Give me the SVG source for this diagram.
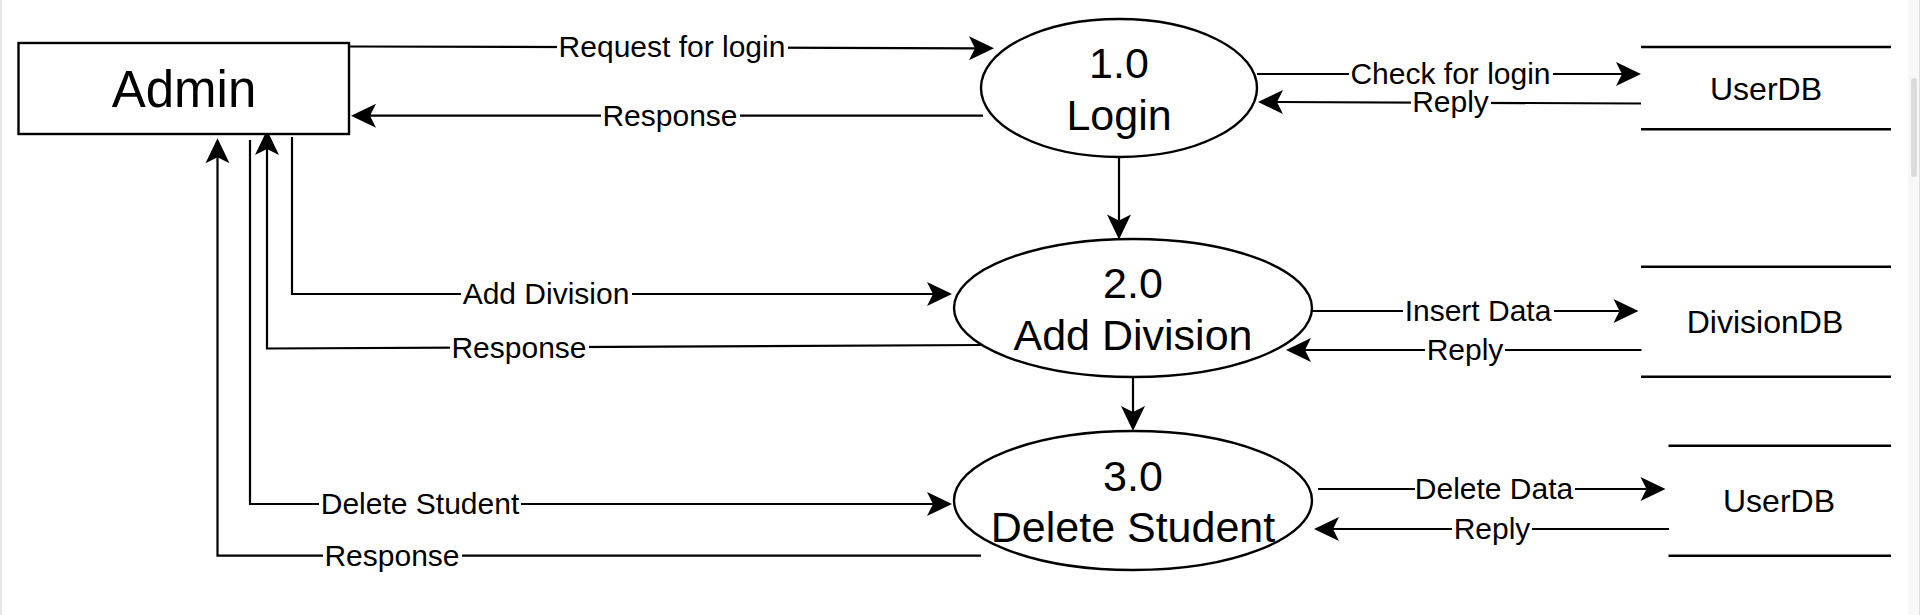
<svg xmlns="http://www.w3.org/2000/svg" width="1920" height="615" viewBox="0 0 1920 615">
  <style>
    text { font-family: "Liberation Sans", Arial, sans-serif; fill: #000; text-anchor: middle; }
    .shape { fill: #fff; stroke: #000; stroke-width: 2.4; }
    .store { stroke: #000; stroke-width: 2.4; fill: none; }
    .edge { fill: none; stroke: #000; stroke-width: 2.2; marker-end: url(#arrow); }
    .edge-plain { fill: none; stroke: #000; stroke-width: 2.2; }
    .lbl { font-size: 30px; }
    .lblbg { fill: #fff; }
    .proc { font-size: 43px; }
    .ent { font-size: 51px; }
    .db { font-size: 32px; }
  </style>
  <defs>
    <marker id="arrow" markerUnits="userSpaceOnUse" markerWidth="40" markerHeight="40" refX="0" refY="0" orient="auto" overflow="visible">
      <path d="M19,0 L-6,-12 L0,0 L-6,12 Z" fill="#000" stroke="none"/>
    </marker>
  </defs>

  <rect x="0" y="0" width="1920" height="615" fill="#fff"/>
  <!-- page chrome -->
  <line x1="1" y1="0" x2="1" y2="615" stroke="#e6e6e6" stroke-width="2"/>
  <rect x="1908" y="0" width="12" height="615" fill="#f8f8f8"/>
  <line x1="1919.5" y1="0" x2="1919.5" y2="615" stroke="#dedede" stroke-width="1"/>
  <rect x="1911" y="78" width="6" height="99" rx="3" fill="#dcdcdc"/>

  <g id="connectors">
    <g id="e-request">
      <path class="edge" d="M349,46.5 L975,48.3"/>
      <rect class="lblbg" x="557" y="42" width="231" height="10"/>
      <text class="lbl" x="672" y="57">Request for login</text>
    </g>
    <g id="e-response1">
      <path class="edge" d="M983,115.7 L370,115.7"/>
      <rect class="lblbg" x="601" y="111" width="139" height="10"/>
      <text class="lbl" x="670" y="126">Response</text>
    </g>
    <g id="e-check">
      <path class="edge" d="M1257,74 L1622,74"/>
      <rect class="lblbg" x="1349" y="69" width="204" height="10"/>
      <text class="lbl" x="1450.5" y="84">Check for login</text>
    </g>
    <g id="e-reply1">
      <path class="edge" d="M1641,103.5 L1277,102"/>
      <rect class="lblbg" x="1411" y="98" width="80" height="10"/>
      <text class="lbl" x="1450.5" y="112">Reply</text>
    </g>
    <g id="e-1-2">
      <path class="edge" d="M1119,157 L1119,220.5"/>
    </g>
    <g id="e-adddiv">
      <path class="edge" d="M292,137 V294 H933"/>
      <rect class="lblbg" x="461" y="289" width="171" height="10"/>
      <text class="lbl" x="546" y="304">Add Division</text>
    </g>
    <g id="e-response2">
      <path class="edge" d="M983,345 L267,348.5 V149"/>
      <rect class="lblbg" x="450" y="342" width="139" height="12"/>
      <text class="lbl" x="519" y="358">Response</text>
    </g>
    <g id="e-insert">
      <path class="edge" d="M1312,311 L1619.5,311"/>
      <rect class="lblbg" x="1403" y="306" width="151" height="10"/>
      <text class="lbl" x="1478" y="321">Insert Data</text>
    </g>
    <g id="e-reply2">
      <path class="edge" d="M1641.5,350 L1305,350"/>
      <rect class="lblbg" x="1425" y="345" width="80" height="10"/>
      <text class="lbl" x="1465" y="360">Reply</text>
    </g>
    <g id="e-2-3">
      <path class="edge" d="M1133,377 L1133,412"/>
    </g>
    <g id="e-delstudent">
      <path class="edge" d="M250,140 V504 H933"/>
      <rect class="lblbg" x="319" y="499" width="202" height="10"/>
      <text class="lbl" x="420" y="514">Delete Student</text>
    </g>
    <g id="e-response3">
      <path class="edge" d="M981,555.7 H217.5 V157.3"/>
      <rect class="lblbg" x="323" y="551" width="139" height="10"/>
      <text class="lbl" x="392" y="566">Response</text>
    </g>
    <g id="e-deldata">
      <path class="edge" d="M1318,489 L1646.5,489"/>
      <rect class="lblbg" x="1415" y="484" width="160" height="10"/>
      <text class="lbl" x="1494" y="499">Delete Data</text>
    </g>
    <g id="e-reply3">
      <path class="edge" d="M1669,529 L1333,529"/>
      <rect class="lblbg" x="1452" y="524" width="80" height="10"/>
      <text class="lbl" x="1492" y="539">Reply</text>
    </g>
  </g>

  <g id="admin">
    <rect class="shape" x="18.5" y="43" width="330.5" height="91"/>
    <text class="ent" x="184" y="106.5">Admin</text>
  </g>

  <g id="p1-login">
    <ellipse class="shape" cx="1119" cy="88" rx="138" ry="69"/>
    <text class="proc" x="1119" y="78">1.0</text>
    <text class="proc" x="1119" y="130">Login</text>
  </g>

  <g id="p2-add-division">
    <ellipse class="shape" cx="1133" cy="308" rx="179" ry="69"/>
    <text class="proc" x="1133" y="297.5">2.0</text>
    <text class="proc" x="1133" y="350">Add Division</text>
  </g>

  <g id="p3-delete-student">
    <ellipse class="shape" cx="1133" cy="500.5" rx="179" ry="69.5"/>
    <text class="proc" x="1133" y="490.5">3.0</text>
    <text class="proc" x="1133" y="542.3">Delete Student</text>
  </g>

  <g id="store-userdb-1">
    <line class="store" x1="1641" y1="47" x2="1891" y2="47"/>
    <line class="store" x1="1641" y1="129.3" x2="1891" y2="129.3"/>
    <text class="db" x="1766" y="100">UserDB</text>
  </g>

  <g id="store-divisiondb">
    <line class="store" x1="1641" y1="266.7" x2="1891" y2="266.7"/>
    <line class="store" x1="1641" y1="376.7" x2="1891" y2="376.7"/>
    <text class="db" x="1765" y="333.3">DivisionDB</text>
  </g>

  <g id="store-userdb-2">
    <line class="store" x1="1668.5" y1="445.7" x2="1891" y2="445.7"/>
    <line class="store" x1="1668.5" y1="555.7" x2="1891" y2="555.7"/>
    <text class="db" x="1779" y="512.3">UserDB</text>
  </g>
</svg>
